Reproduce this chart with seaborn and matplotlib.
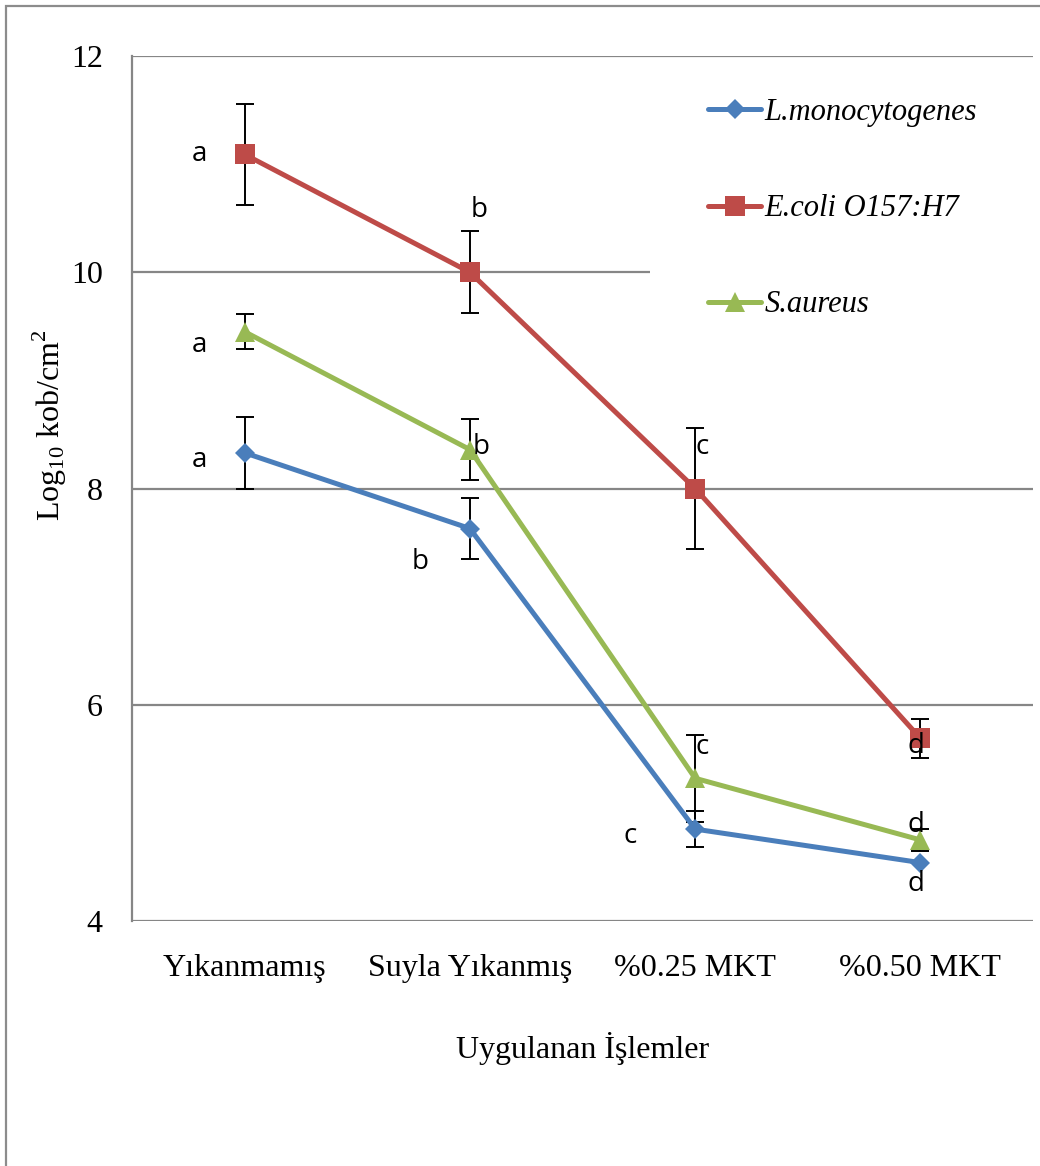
import matplotlib
matplotlib.use("Agg")
import matplotlib.pyplot as plt
import seaborn as sns
import pandas as pd
from matplotlib.patches import Rectangle
from matplotlib.lines import Line2D

# ---- data ----
categories = ["Yıkanmamış", "Suyla Yıkanmış", "%0.25 MKT", "%0.50 MKT"]
series = ["L.monocytogenes", "E.coli O157:H7", "S.aureus"]
l_mono = [8.33, 7.63, 4.85, 4.54]
e_coli = [11.09, 10.00, 8.00, 5.69]
s_aureus = [9.45, 8.36, 5.32, 4.75]
l_mono_err = [0.33, 0.28, 0.17, 0.0]
e_coli_err = [0.47, 0.38, 0.56, 0.18]
s_aureus_err = [0.16, 0.28, 0.40, 0.10]
# significance letters: (category position, y, letter)
letters_x = [-0.20, -0.20, -0.20, 1.04, 1.05, 0.78, 2.03, 2.03, 1.71, 2.98, 2.98, 2.98]
letters_y = [11.09, 9.33, 8.26, 10.58, 8.38, 7.32, 8.38, 5.61, 4.79, 5.62, 4.89, 4.34]
letters = ["a", "a", "a", "b", "b", "b", "c", "c", "c", "d", "d", "d"]
yticks = [4, 6, 8, 10, 12]

colors = {"L.monocytogenes": "#4A7EBB", "E.coli O157:H7": "#BE4B48", "S.aureus": "#98B954"}
markers = {"L.monocytogenes": "D", "E.coli O157:H7": "s", "S.aureus": "^"}

rows = []
for name, vals in zip(series, [l_mono, e_coli, s_aureus]):
    for c, v in zip(categories, vals):
        rows.append({"cat": c, "val": v, "series": name})
df = pd.DataFrame(rows)

sns.set_theme(style="white")
plt.rcParams["font.family"] = ["Liberation Serif", "DejaVu Serif"]
plt.rcParams["mathtext.fontset"] = "custom"
plt.rcParams["mathtext.rm"] = "Liberation Serif"
plt.rcParams["text.color"] = "black"
plt.rcParams["axes.labelcolor"] = "black"

fig = plt.figure(figsize=(10.4, 11.66), dpi=100)
ax = fig.add_axes([132 / 1040, 1 - 921 / 1166, 901 / 1040, 865 / 1166])

# gridlines (the one at 10 is hidden behind the legend on the right)
grid_c = "#868686"
for y in yticks:
    xmax = 1.80 if y == 10 else 3.5
    ax.hlines(y, -0.5, xmax, color=grid_c, lw=1.6, zorder=0)

# error bars
for vals, errs in zip([l_mono, e_coli, s_aureus], [l_mono_err, e_coli_err, s_aureus_err]):
    ax.errorbar(range(len(categories)), vals, yerr=errs, fmt="none", ecolor="black",
                elinewidth=1.4, capsize=6.5, capthick=1.4, zorder=1)

sns.lineplot(data=df, x="cat", y="val", hue="series", style="series",
             palette=colors, markers=markers, dashes=False, lw=3.6,
             markersize=14.5, markeredgewidth=0, ax=ax, zorder=3, legend=False)
for line in ax.lines:
    if line.get_marker() == "D":
        line.set_markersize(10.2)

for x, y, t in zip(letters_x, letters_y, letters):
    ax.text(x, y, t, ha="center", va="center", fontsize=20, family=["Open Sans", "DejaVu Sans"],
            color="black", zorder=4)

ax.set_xlim(-0.5, 3.5)
ax.set_ylim(4, 12)
ax.set_yticks(yticks)
ax.set_xticks(range(len(categories)))
ax.set_xticklabels(categories)
ax.tick_params(axis="both", length=0, labelsize=23, colors="black")
ax.tick_params(axis="y", pad=21)
ax.tick_params(axis="x", pad=24)
for s in ["top", "right", "bottom"]:
    ax.spines[s].set_visible(False)
ax.spines["left"].set_color(grid_c)
ax.spines["left"].set_linewidth(1.6)
ax.set_xlabel("Uygulanan İşlemler", fontsize=23, labelpad=35, color="black")
ax.set_ylabel("")

fig.text(50 / 1040, 1 - 425 / 1166, r"Log$_{\mathrm{10}}$ kob/cm$^{\mathrm{2}}$",
         rotation=90, ha="center", va="center", fontsize=23, color="black")

# legend
handles = [Line2D([], [], color=colors[n], marker=markers[n], lw=3.6,
                  markersize=(10.2 if markers[n] == "D" else 14.5), markeredgewidth=0)
           for n in series]
leg = ax.legend(handles, series, loc="upper left",
                bbox_to_anchor=((708 - 132) / 901, (921 - 98) / 865),
                frameon=False, prop={"family": "Liberation Serif", "style": "italic", "size": 22},
                handlelength=1.75, handletextpad=0.1, labelspacing=2.2, borderpad=0, borderaxespad=0)
for t in leg.get_texts():
    t.set_color("black")

# outer border
fig.patches.append(Rectangle((6 / 1040, -0.05), 1.2, 1 - 6 / 1166 + 0.05, transform=fig.transFigure,
                             fill=False, edgecolor="#8C8C8C", lw=1.6, zorder=0))

fig.savefig("out.png", dpi=100, facecolor="white")
